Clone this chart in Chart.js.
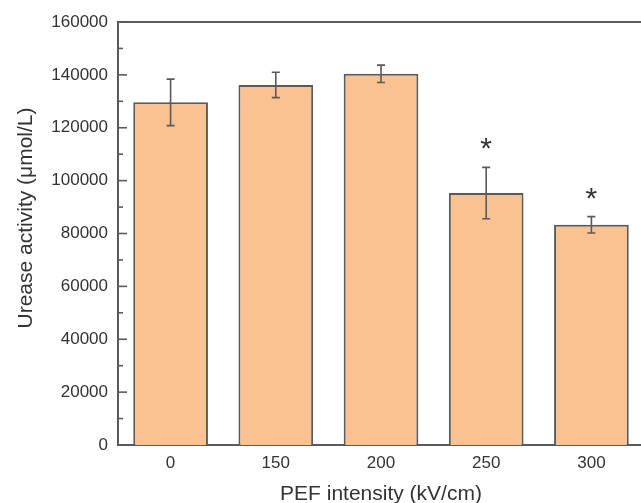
<!DOCTYPE html>
<html>
<head>
<meta charset="utf-8">
<script src="https://cdn.jsdelivr.net/npm/chart.js@4"></script>
<style>
  html, body { margin: 0; padding: 0; background: #fff; overflow: hidden; }
  #wrap { width: 660px; height: 503px; }
</style>
</head>
<body>
<div id="wrap"><canvas id="chart"></canvas></div>
<script>
// data
const categories = ['0', '150', '200', '250', '300'];
const means = [129600, 136200, 140400, 95300, 83300];
const errors = [8800, 4800, 3300, 9700, 3100];
const marks = ['', '', '', '*', '*'];
const yTicks = [0, 20000, 40000, 60000, 80000, 100000, 120000, 140000, 160000];

const xTitle = 'PEF intensity (kV/cm)';
const yTitle = 'Urease activity (\u03bcmol/L)';

const FONT = '"Liberation Sans", Arial, sans-serif';
const LINE = '#5a5a5a';

const extras = {
    id: 'extras',
    afterDatasetsDraw(chart){
        const { ctx, chartArea, scales: { x, y } } = chart;
        ctx.save();
        ctx.strokeStyle = LINE;
        ctx.lineWidth = 1.6;

        // error bars
        means.forEach((m, i) => {
            const cx = x.getPixelForValue(i);
            const yt = y.getPixelForValue(m + errors[i]);
            const yb = y.getPixelForValue(m - errors[i]);
            ctx.beginPath();
            ctx.moveTo(cx, yt); ctx.lineTo(cx, yb);
            ctx.moveTo(cx - 4, yt); ctx.lineTo(cx + 4, yt);
            ctx.moveTo(cx - 4, yb); ctx.lineTo(cx + 4, yb);
            ctx.stroke();
        });

        // significance marks
        ctx.fillStyle = '#333';
        ctx.font = '30px ' + FONT;
        ctx.textAlign = 'center';
        ctx.textBaseline = 'alphabetic';
        marks.forEach((s, i) => {
            if (!s) return;
            const cx = x.getPixelForValue(i);
            const yt = y.getPixelForValue(means[i] + errors[i]);
            ctx.fillText(s, cx, yt - 9);
        });

        // top frame line
        ctx.lineWidth = 2;
        ctx.beginPath();
        ctx.moveTo(chartArea.left, chartArea.top);
        ctx.lineTo(chartArea.right, chartArea.top);
        ctx.stroke();

        // inward ticks, major and minor
        ctx.lineWidth = 1.6;
        for (let i = 0; i < yTicks.length; i++) {
            const py = y.getPixelForValue(yTicks[i]);
            ctx.beginPath();
            ctx.moveTo(chartArea.left, py); ctx.lineTo(chartArea.left + 9, py);
            ctx.stroke();
            if (i < yTicks.length - 1) {
                const pm = y.getPixelForValue((yTicks[i] + yTicks[i + 1]) / 2);
                ctx.beginPath();
                ctx.moveTo(chartArea.left, pm); ctx.lineTo(chartArea.left + 5, pm);
                ctx.stroke();
            }
        }
        ctx.restore();
    },
    afterDraw(chart){
        const { ctx } = chart;
        ctx.save();
        ctx.fillStyle = '#333';
        ctx.font = '21px ' + FONT;
        ctx.textAlign = 'center';
        ctx.textBaseline = 'alphabetic';
        ctx.fillText(xTitle, 381, 500);
        ctx.translate(32, 218);
        ctx.rotate(-Math.PI / 2);
        ctx.fillText(yTitle, 0, 0);
        ctx.restore();
    }
};

new Chart(document.getElementById('chart'), {
    type: 'bar',
    data: {
        labels: categories,
        datasets: [{
            data: means,
            backgroundColor: '#F9C290',
            borderColor: LINE,
            borderWidth: 2,
            barPercentage: 0.71,
            categoryPercentage: 1
        }]
    },
    options: {
        responsive: true,
        maintainAspectRatio: false,
        animation: false,
        layout: { padding: { top: 22, right: 16, bottom: 0, left: 0 } },
        plugins: {
            legend: { display: false },
            tooltip: { enabled: false }
        },
        scales: {
            x: {
                grid: { display: false, drawTicks: false },
                border: { display: true, color: LINE, width: 2 },
                ticks: { color: '#333', padding: 8, font: { family: FONT, size: 17 } },
                afterFit(scale){ scale.height = 58; }
            },
            y: {
                min: 0,
                max: 160000,
                grid: { display: false, drawTicks: false },
                border: { display: true, color: LINE, width: 2 },
                afterBuildTicks(scale){ scale.ticks = yTicks.map(v => ({ value: v })); },
                ticks: {
                    color: '#333',
                    padding: 10,
                    font: { family: FONT, size: 17 },
                    callback: v => String(v)
                },
                afterFit(scale){ scale.width = 118; }
            }
        }
    },
    plugins: [extras]
});
</script>
</body>
</html>
